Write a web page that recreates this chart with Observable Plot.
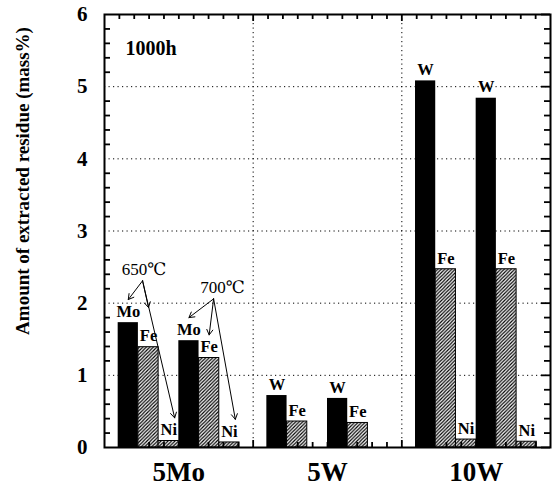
<!DOCTYPE html>
<html><head><meta charset="utf-8">
<script src="https://cdn.jsdelivr.net/npm/d3@7"></script>
<script src="https://cdn.jsdelivr.net/npm/@observablehq/plot@0.6"></script>
<style>body{margin:0;background:#fff}</style>
</head><body><div id="chart"></div>
<script>
// ---- data ----
const groups = ["5Mo", "5W", "10W"];
const temps = ["650℃", "700℃"];
const mainElement = ["Mo", "W", "W"];
const mainValues = [[1.73, 1.48], [0.72, 0.68], [5.08, 4.84]];
const feValues = [[1.39, 1.24], [0.36, 0.34], [2.47, 2.47]];
const niValues = [[0.09, 0.07], [0, 0], [0.11, 0.08]];
const yTicks = [0, 1, 2, 3, 4, 5, 6];
const period = "1000h";
const yLabel = "Amount of extracted residue (mass%)";

// ---- build table ----
const W = 0.136; // slot width in group units
const bars = [];
groups.forEach((g, gi) => {
  temps.forEach((t, ti) => {
    const vals = [mainValues[gi][ti], feValues[gi][ti], niValues[gi][ti]];
    const els = [mainElement[gi], "Fe", "Ni"];
    vals.forEach((v, k) => {
      const slot = ti * 3 + k;
      const x1 = gi + 0.5 + (slot - 3) * W;
      bars.push({group: g, temp: t, gi, ti, k, element: els[k], value: v, x1, x2: x1 + W, xc: x1 + W / 2});
    });
  });
});
const shown = bars.filter(d => d.value > 0);

// temperature annotations for first group (5Mo)
const notes = temps.map((t, ti) => {
  const b = bars.filter(d => d.gi === 0 && d.ti === ti);
  return {text: t, ti, x: b[1].xc + (ti === 0 ? -0.03 : 0.09), y: b[0].value + 0.74};
});
const arrows = [];
notes.forEach(n => {
  bars.filter(d => d.gi === 0 && d.ti === n.ti).forEach(d => {
    arrows.push({x1: n.x - (n.ti === 0 ? 0.01 : 0.06), y1: n.y - 0.16, x2: d.xc + (d.k === 2 ? 0.04 : 0), y2: d.value + (d.k === 1 && n.ti === 0 ? 0.55 : 0.32)});
  });
});

const minorY = d3.range(0.2, 6, 0.2).filter(v => Math.abs(v - Math.round(v)) > 0.01);
const minorX = d3.range(0.1, 3, 0.1).filter(v => Math.abs(v - Math.round(v)) > 0.01);
const eps = 1e-6;
const tx = 6 / 148.7, tx2 = 9 / 148.7;   // tick lengths in x units
const ty = 5 / 72.2, ty2 = 7 / 72.2;     // tick lengths in y units

const dotted = {stroke: "black", strokeWidth: 1, strokeDasharray: "1.2,3.3"};
const tk = {stroke: "black", strokeWidth: 1.8};
const serif = "'Liberation Serif', 'Times New Roman', 'DejaVu Serif', serif";

const chart = Plot.plot({
  width: 552, height: 493,
  marginLeft: 104, marginRight: 2, marginTop: 14, marginBottom: 46,
  x: {domain: [0, 3], axis: null},
  y: {domain: [0, 6], axis: null},
  style: {fontFamily: serif, background: "white", color: "black"},
  marks: [
    Plot.ruleY([1, 2, 3, 4, 5], dotted),
    Plot.ruleX([1, 2], dotted),
    Plot.rectY(shown.filter(d => d.k === 0), {x1: "x1", x2: "x2", y1: eps, y2: "value", fill: "black"}),
    Plot.rectY(shown.filter(d => d.k > 0), {x1: "x1", x2: "x2", y1: eps, y2: "value", fill: "url(#hatch)", stroke: "black", strokeWidth: 1}),
    Plot.frame({stroke: "black", strokeWidth: 2}),
    // ticks (inward)
    Plot.ruleY(minorY, {x1: eps, x2: tx, ...tk}),
    Plot.ruleY(minorY, {x1: 3 - tx, x2: 3, ...tk}),
    Plot.ruleY(yTicks, {x1: 3 - tx2, x2: 3, ...tk}),
    Plot.ruleX(minorX, {y1: 6 - ty, y2: 6, ...tk}),
    Plot.ruleX(minorX, {y1: eps, y2: ty, ...tk}),
    Plot.ruleX([1, 2], {y1: 6 - ty2, y2: 6, ...tk}),
    Plot.ruleX([1, 2], {y1: eps, y2: ty2, ...tk}),
    // bar labels
    Plot.text(shown, {x: "xc", y: "value", text: "element", dy: -11, fontSize: 16.5, fontWeight: "bold", fill: "black"}),
    // temperature notes
    Plot.arrow(arrows, {x1: "x1", y1: "y1", x2: "x2", y2: "y2", stroke: "black", strokeWidth: 1, headLength: 9}),
    Plot.text(notes, {x: "x", y: "y", text: "text", fontSize: 17, fill: "black"}),
    // axis labels
    Plot.text(yTicks, {x: eps, y: d => d, text: d => String(d), textAnchor: "end", dx: -17, fontSize: 21, fontWeight: "bold", fill: "black"}),
    Plot.text(groups, {x: (d, i) => i + 0.5, y: eps, text: d => d, dy: 25, fontSize: 27, fontWeight: "bold", fill: "black"}),
    Plot.text([yLabel], {frameAnchor: "left", textAnchor: "middle", rotate: -90, dx: -82, dy: -50, text: d => d, fontSize: 19, fontWeight: "bold", fill: "black"}),
    Plot.text([period], {frameAnchor: "top-left", dx: 21, dy: 26, text: d => d, textAnchor: "start", fontSize: 20, fontWeight: "bold", fill: "black"})
  ]
});

const defs = d3.select(chart).insert("defs", ":first-child");
const pat = defs.append("pattern").attr("id", "hatch").attr("patternUnits", "userSpaceOnUse")
  .attr("width", 3.5).attr("height", 3.5);
pat.append("rect").attr("width", 3.5).attr("height", 3.5).attr("fill", "white");
pat.append("path").attr("d", "M-1,1 l2,-2 M0,3.5 l3.5,-3.5 M2.5,4.5 l2,-2").attr("stroke", "black").attr("stroke-width", 1.2);

document.getElementById("chart").appendChild(chart);
</script>
</body></html>
